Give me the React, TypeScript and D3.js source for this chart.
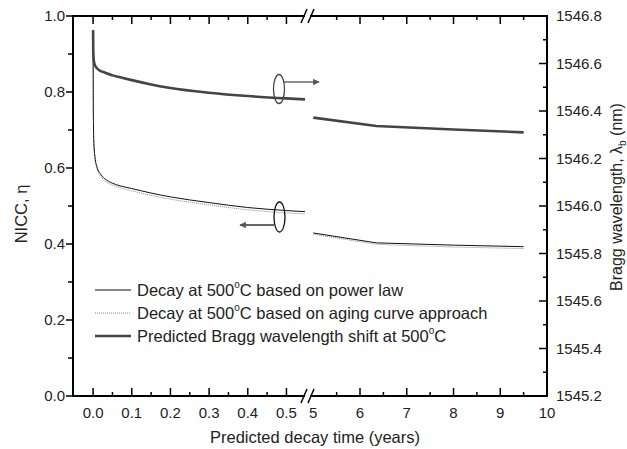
import React from "react";
import * as d3 from "d3";

// years (left segment, 0 - 0.55)
const tLeft = [0, 0.0003, 0.001, 0.002, 0.005, 0.01, 0.02, 0.03, 0.05, 0.07, 0.1, 0.15, 0.2, 0.3, 0.4, 0.5, 0.548];
const powerLeft = [0.963, 0.82, 0.71, 0.665, 0.628, 0.603, 0.583, 0.572, 0.56, 0.553, 0.546, 0.534, 0.524, 0.509, 0.496, 0.488, 0.485];
const agingLeft = [0.963, 0.815, 0.705, 0.66, 0.622, 0.598, 0.578, 0.567, 0.555, 0.548, 0.54, 0.528, 0.518, 0.503, 0.49, 0.482, 0.479];
const braggLeft = [1546.74, 1546.66, 1546.63, 1546.61, 1546.592, 1546.58, 1546.568, 1546.562, 1546.55, 1546.542, 1546.53, 1546.512, 1546.497, 1546.477, 1546.463, 1546.453, 1546.449];

// years (right segment, 5 - 9.5)
const tRight = [5.0, 6.35, 8.0, 9.5];
const powerRight = [0.429, 0.403, 0.397, 0.393];
const agingRight = [0.426, 0.399, 0.392, 0.388];
const braggRight = [1546.372, 1546.337, 1546.322, 1546.31];

const leftTicks = [0, 0.1, 0.2, 0.3, 0.4, 0.5];
const leftMinor = [0.05, 0.15, 0.25, 0.35, 0.45];
const rightTicks = [5, 6, 7, 8, 9, 10];
const rightMinor = [5.5, 6.5, 7.5, 8.5, 9.5];
const etaTicks = [0, 0.2, 0.4, 0.6, 0.8, 1.0];
const etaMinor = [0.1, 0.3, 0.5, 0.7, 0.9];
const wlTicks = [1545.2, 1545.4, 1545.6, 1545.8, 1546.0, 1546.2, 1546.4, 1546.6, 1546.8];
const wlMinor = [1545.3, 1545.5, 1545.7, 1545.9, 1546.1, 1546.3, 1546.5, 1546.7];

const legendItems = [
  { pre: "Decay at 500", post: "C based on power law", kind: "power" },
  { pre: "Decay at 500", post: "C based on aging curve approach", kind: "aging" },
  { pre: "Predicted Bragg wavelength shift at 500", post: "C", kind: "bragg" },
];

const W = 627;
const H = 449;
const left = 73, right = 547, top = 16, bottom = 396;
const font = "'Liberation Sans', Arial, sans-serif";

const xl = d3.scaleLinear().domain([-0.052, 0.548]).range([left, 305]);
const xr = d3.scaleLinear().domain([4.93, 10]).range([310, right]);
const yEta = d3.scaleLinear().domain([0, 1]).range([bottom, top]);
const yWl = d3.scaleLinear().domain([1545.2, 1546.8]).range([bottom, top]);

const styles: Record<string, any> = {
  power: { stroke: "#111", strokeWidth: 1 },
  aging: { stroke: "#888", strokeWidth: 1, strokeDasharray: "1,1" },
  bragg: { stroke: "#444", strokeWidth: 2.6 },
};

function path(ts: number[], vs: number[], x: any, y: any, curve: any) {
  const line = d3.line<number>()
    .x((_, i) => x(ts[i]))
    .y((v) => y(v))
    .curve(curve);
  return line(vs) || "";
}

export default function App() {
  const tc = "#222";
  const mono = d3.curveMonotoneX;
  const lin = d3.curveLinear;
  return (
    <svg width={W} height={H} style={{ position: "absolute", left: 0, top: 0, background: "#fff" }} fontFamily={font}>
      {/* data */}
      <path d={path(tLeft, agingLeft, xl, yEta, mono)} fill="none" {...styles.aging} />
      <path d={path(tLeft, powerLeft, xl, yEta, mono)} fill="none" {...styles.power} />
      <path d={path(tLeft, braggLeft, xl, yWl, mono)} fill="none" {...styles.bragg} />
      <path d={path(tRight, agingRight, xr, yEta, lin)} fill="none" {...styles.aging} />
      <path d={path(tRight, powerRight, xr, yEta, lin)} fill="none" {...styles.power} />
      <path d={path(tRight, braggRight, xr, yWl, lin)} fill="none" {...styles.bragg} />

      {/* frame */}
      <g stroke="#000" strokeWidth={2} fill="none">
        <line x1={left} y1={top} x2={left} y2={bottom} />
        <line x1={right} y1={top} x2={right} y2={bottom} />
        <line x1={left - 1} y1={bottom} x2={305} y2={bottom} />
        <line x1={310} y1={bottom} x2={right + 1} y2={bottom} />
        <line x1={left - 1} y1={top} x2={305} y2={top} />
        <line x1={310} y1={top} x2={right + 1} y2={top} />
      </g>
      {/* break marks */}
      <g stroke="#000" strokeWidth={1.5}>
        {[bottom, top].map((y) => (
          <g key={y}>
            <line x1={301} y1={y + 7} x2={307} y2={y - 7} />
            <line x1={308} y1={y + 7} x2={314} y2={y - 7} />
          </g>
        ))}
      </g>

      {/* ticks */}
      <g stroke="#000" strokeWidth={1.5}>
        {leftTicks.map((t) => (
          <g key={"l" + t}>
            <line x1={xl(t)} x2={xl(t)} y1={bottom} y2={bottom - 8} />
            <line x1={xl(t)} x2={xl(t)} y1={top} y2={top + 8} />
          </g>
        ))}
        {leftMinor.map((t) => (
          <g key={"lm" + t}>
            <line x1={xl(t)} x2={xl(t)} y1={bottom} y2={bottom - 4} />
            <line x1={xl(t)} x2={xl(t)} y1={top} y2={top + 4} />
          </g>
        ))}
        {rightTicks.slice(1, 5).map((t) => (
          <g key={"r" + t}>
            <line x1={xr(t)} x2={xr(t)} y1={bottom} y2={bottom - 8} />
            <line x1={xr(t)} x2={xr(t)} y1={top} y2={top + 8} />
          </g>
        ))}
        {rightMinor.map((t) => (
          <g key={"rm" + t}>
            <line x1={xr(t)} x2={xr(t)} y1={bottom} y2={bottom - 4} />
            <line x1={xr(t)} x2={xr(t)} y1={top} y2={top + 4} />
          </g>
        ))}
        {etaTicks.map((v) => <line key={"e" + v} x1={left} x2={left - 7} y1={yEta(v)} y2={yEta(v)} />)}
        {etaMinor.map((v) => <line key={"em" + v} x1={left} x2={left - 5} y1={yEta(v)} y2={yEta(v)} />)}
        {wlTicks.map((v) => <line key={"w" + v} x1={right} x2={right - 8} y1={yWl(v)} y2={yWl(v)} />)}
        {wlMinor.map((v) => <line key={"wm" + v} x1={right} x2={right - 4} y1={yWl(v)} y2={yWl(v)} />)}
      </g>

      {/* tick labels */}
      <g fontSize={15} fill={tc}>
        {leftTicks.map((t) => (
          <text key={"lt" + t} x={xl(t)} y={bottom + 22} textAnchor="middle">{t.toFixed(1)}</text>
        ))}
        {rightTicks.map((t) => (
          <text key={"rt" + t} x={xr(t)} y={bottom + 22} textAnchor="middle">{t}</text>
        ))}
        {etaTicks.map((v) => (
          <text key={"et" + v} x={left - 8} y={yEta(v) + 5} textAnchor="end">{v.toFixed(1)}</text>
        ))}
        {wlTicks.map((v) => (
          <text key={"wt" + v} x={right + 9} y={yWl(v) + 5} textAnchor="start">{v.toFixed(1)}</text>
        ))}
      </g>

      {/* axis titles */}
      <text x={315} y={443} textAnchor="middle" fontSize={16.5} fill={tc}>Predicted decay time (years)</text>
      <text transform={`translate(27,214) rotate(-90)`} textAnchor="middle" fontSize={16.5} fill={tc}>NICC, η</text>
      <text transform={`translate(622,197) rotate(-90)`} textAnchor="middle" fontSize={16} fill={tc}>
        Bragg wavelength, λ<tspan fontSize={10} dy={4}>b</tspan><tspan dy={-4}> (nm)</tspan>
      </text>

      {/* annotations */}
      <defs>
        <marker id="ah" viewBox="0 0 10 10" refX={9} refY={5} markerWidth={7} markerHeight={5} orient="auto">
          <path d="M0,0 L10,5 L0,10 z" fill="#555" />
        </marker>
      </defs>
      <g fill="none" stroke="#444" strokeWidth={1.3}>
        <ellipse cx={279} cy={89} rx={5.5} ry={14.5} />
        <line x1={284} y1={82} x2={319} y2={82} markerEnd="url(#ah)" stroke="#666" />
        <ellipse cx={279.5} cy={217} rx={5.5} ry={15} stroke="#111" />
        <line x1={274} y1={225} x2={240} y2={225} markerEnd="url(#ah)" stroke="#333" />
      </g>

      {/* legend */}
      <g fontSize={16.5} fill={tc}>
        {legendItems.map((it, i) => {
          const y = 296 + i * 23;
          return (
            <g key={it.kind}>
              <line x1={95} x2={131} y1={y - 6} y2={y - 6} fill="none" {...styles[it.kind]} />
              <text x={137} y={y}>
                {it.pre}<tspan fontSize={10} dy={-8}>o</tspan><tspan dy={8}>{it.post}</tspan>
              </text>
            </g>
          );
        })}
      </g>
    </svg>
  );
}
